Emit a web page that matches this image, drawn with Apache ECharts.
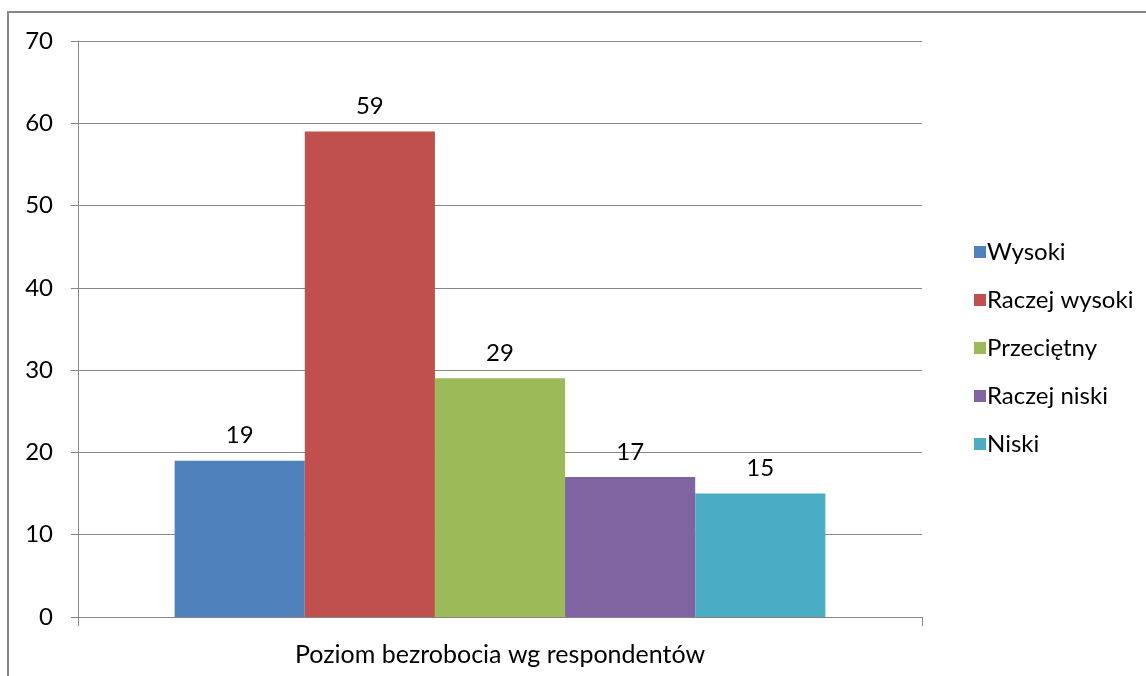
<!DOCTYPE html>
<html>
<head>
<meta charset="utf-8">
<script src="https://cdn.jsdelivr.net/npm/echarts@6/dist/echarts.min.js"></script>
<style>
html,body{margin:0;padding:0;background:#fff;}
#chart{width:1146px;height:676px;}
</style>
</head>
<body>
<div id="chart"></div>
<script>
const categories = ['Poziom bezrobocia wg respondentów'];
const seriesNames = ['Wysoki', 'Raczej wysoki', 'Przeciętny', 'Raczej niski', 'Niski'];
const seriesValues = [19, 59, 29, 17, 15];
const colors = ['#4F81BD', '#C0504D', '#9BBB59', '#8064A2', '#4BACC6'];
const yMin = 0, yMax = 70, yInterval = 10;

const FONT = 'Lato';
const FS = 24;
const chart = echarts.init(document.getElementById('chart'));
const series = seriesNames.map((name, i) => ({
  name: name,
  type: 'bar',
  data: [seriesValues[i]],
  itemStyle: { color: colors[i] },
  barGap: '0%',
  barCategoryGap: '22.9%',
  label: {
    show: true,
    position: 'top',
    distance: 13,
    color: '#000',
    fontFamily: FONT,
    fontSize: FS
  }
}));

chart.setOption({
  animation: false,
  color: colors,
  grid: { left: 78, right: 224, top: 41, bottom: 59, containLabel: false },
  legend: {
    orient: 'vertical',
    left: 969,
    top: 235,
    itemWidth: 12,
    itemHeight: 12,
    itemGap: 24,
    icon: 'rect',
    textStyle: { fontFamily: FONT, fontSize: FS, color: '#000', padding: [0, 0, 0, -4] },
    data: seriesNames
  },
  xAxis: {
    type: 'category',
    data: categories,
    axisLine: { show: true, lineStyle: { color: '#868686', width: 1 } },
    axisTick: { show: true, alignWithLabel: false, length: 9, lineStyle: { color: '#868686' } },
    axisLabel: { fontFamily: FONT, fontSize: 25, color: '#000', margin: 25 }
  },
  yAxis: {
    type: 'value',
    min: yMin,
    max: yMax,
    interval: yInterval,
    axisLine: { show: true, lineStyle: { color: '#868686', width: 1 } },
    axisTick: { show: true, length: 7, lineStyle: { color: '#868686' } },
    axisLabel: { fontFamily: FONT, fontSize: FS, color: '#000', margin: 25 },
    splitLine: { show: true, lineStyle: { color: '#868686', width: 1 } }
  },
  graphic: [{
    type: 'rect',
    shape: { x: 8, y: 12, width: 1300, height: 800 },
    style: { fill: 'none', stroke: '#868686', lineWidth: 2 },
    silent: true
  }],
  series: series
});
</script>
</body>
</html>
